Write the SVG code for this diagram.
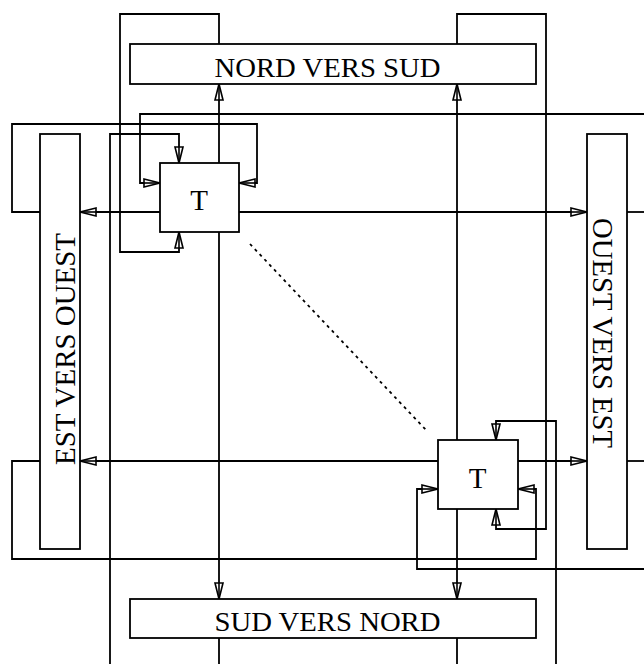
<svg xmlns="http://www.w3.org/2000/svg" width="644" height="664" viewBox="0 0 644 664">
<style>
.box{fill:#fff;stroke:#000;stroke-width:1.8}
.ln{fill:none;stroke:#000;stroke-width:1.8;stroke-linejoin:miter}
.arr{marker-end:url(#ah)}
.lbl{font-family:"Liberation Serif","Times New Roman",serif;fill:#000}
</style>
<defs>
<marker id="ah" markerUnits="userSpaceOnUse" markerWidth="20" markerHeight="12" refX="16" refY="5" orient="auto" viewBox="-1 -1 20 12">
<path d="M0,1 L16,5 L0,9 Z" fill="#fff" stroke="#000" stroke-width="1.6"/>
<path d="M0,5 L16,5" stroke="#000" stroke-width="1.6"/>
</marker>
</defs>
<g id="connectors">
<path class="ln arr" d="M219,163 L219,84"/>
<path class="ln arr" d="M219,232 L219,599"/>
<path class="ln arr" d="M457,440 L457,84"/>
<path class="ln arr" d="M457,509 L457,599"/>
<path class="ln arr" d="M160,212 L80,212"/>
<path class="ln arr" d="M239,212 L587,212"/>
<path class="ln arr" d="M438,461 L80,461"/>
<path class="ln arr" d="M518,461 L587,461"/>
<path class="ln arr" d="M219,44 L219,14 L120,14 L120,252 L179,252 L179,232"/>
<path class="ln arr" d="M457,44 L457,14 L546,14 L546,529 L496,529 L496,509"/>
<path class="ln" d="M219,638 L219,664"/>
<path class="ln arr" d="M110,664 L110,134 L179,134 L179,163"/>
<path class="ln" d="M457,638 L457,664"/>
<path class="ln arr" d="M556,664 L556,421 L496,421 L496,440"/>
<path class="ln" d="M627,212 L644,212"/>
<path class="ln arr" d="M644,114 L140,114 L140,183 L160,183"/>
<path class="ln" d="M627,461 L644,461"/>
<path class="ln arr" d="M644,569 L417,569 L417,489 L438,489"/>
<path class="ln arr" d="M40,212 L12,212 L12,124 L257,124 L257,183 L239,183"/>
<path class="ln arr" d="M40,461 L12,461 L12,559 L536,559 L536,489 L518,489"/>
<path class="ln" d="M250,244 L427,431" stroke-dasharray="3,4"/>
</g>
<g id="nord">
<rect class="box" x="130" y="44" width="406" height="40"/>
<text class="lbl" x="327.5" y="76.5" font-size="28" text-anchor="middle" textLength="226" lengthAdjust="spacingAndGlyphs">NORD VERS SUD</text>
</g>
<g id="sud">
<rect class="box" x="130" y="599" width="406" height="39"/>
<text class="lbl" x="327.5" y="631" font-size="28" text-anchor="middle" textLength="226" lengthAdjust="spacingAndGlyphs">SUD VERS NORD</text>
</g>
<g id="est">
<rect class="box" x="40" y="134" width="40" height="415"/>
<text class="lbl" transform="translate(75,349) rotate(-90)" x="0" y="0" font-size="30" text-anchor="middle" textLength="232" lengthAdjust="spacingAndGlyphs">EST VERS OUEST</text>
</g>
<g id="ouest">
<rect class="box" x="587" y="134" width="40" height="415"/>
<text class="lbl" transform="translate(593,333) rotate(90)" x="0" y="0" font-size="30" text-anchor="middle" textLength="230" lengthAdjust="spacingAndGlyphs">OUEST VERS EST</text>
</g>
<g id="t1">
<rect class="box" x="160" y="163" width="79" height="69"/>
<text class="lbl" x="199" y="210" font-size="29" text-anchor="middle">T</text>
</g>
<g id="t2">
<rect class="box" x="438" y="440" width="80" height="69"/>
<text class="lbl" x="477.5" y="488" font-size="29" text-anchor="middle">T</text>
</g>
</svg>
